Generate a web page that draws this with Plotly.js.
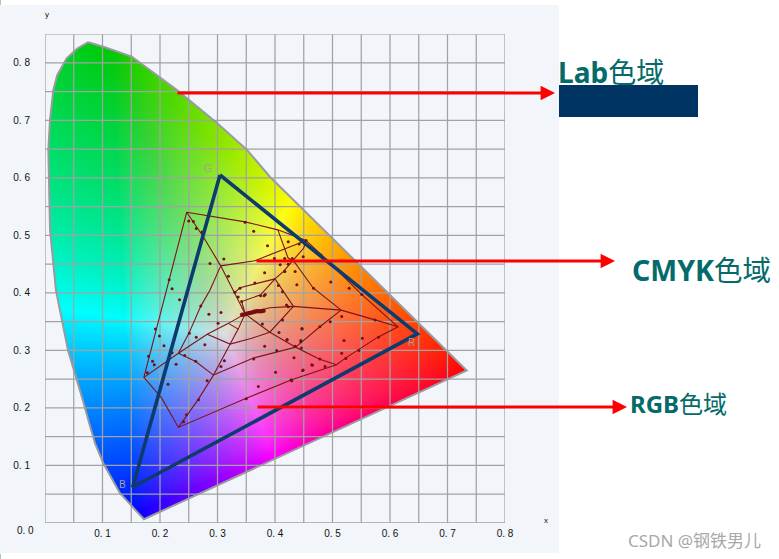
<!DOCTYPE html>
<html><head><meta charset="utf-8">
<script src="https://cdn.plot.ly/plotly-3.0.1.min.js"></script>
<style>html,body{margin:0;padding:0;background:#fff}#c{width:779px;height:559px}</style>
</head><body><div id="c"></div>
<script>
// Chromaticity locus (x, y)
const locusX=[.0753,.1014,.1508,.229,.2986,.351,.391,.7334,.172,.1304,.1014,.087,.077,.0656,.04,.019,.0087,.007,.0058,.0087,.0145,.0214,.0377,.056,.0753];
const locusY=[.836,.828,.811,.753,.696,.649,.602,.265,.0064,.0516,.1038,.1386,.173,.214,.30,.405,.51,.597,.649,.701,.753,.779,.808,.825,.836];
// RGB gamut
const rgbX=[.3043,.6475,.1525,.3043];
const rgbY=[.605,.3287,.062,.605];
// CMYK gamut mesh lines
const meshLines=[
 [[.2464,.348,.405,.454,.481,.551,.614,.579,.523,.507,.429,.351,.232,.203,.172,.2464],[.5403,.5235,.5096,.491,.466,.397,.341,.323,.287,.275,.249,.217,.166,.217,.253,.5403]],
 [[.2464,.275,.3056,.330,.348],[.5403,.498,.447,.4005,.3635]],
 [[.3056,.365,.454],[.447,.456,.491]],
 [[.3056,.287,.271,.2504,.232],[.447,.405,.377,.330,.295]],
 [[.172,.232,.282,.319,.348],[.253,.295,.328,.347,.3635]],
 [[.348,.336,.322,.293,.266,.232],[.3635,.337,.311,.257,.214,.166]],
 [[.232,.262,.293],[.295,.2805,.257]],
 [[.293,.3635,.436,.4765,.507],[.257,.287,.3056,.285,.275]],
 [[.282,.322,.3595,.391,.432],[.328,.311,.321,.3316,.3765]],
 [[.319,.336],[.347,.337]],
 [[.348,.391,.436],[.3635,.3316,.3056]],
 [[.436,.478,.515],[.3056,.341,.370]],
 [[.348,.391,.432,.515,.574,.614],[.3635,.374,.3765,.370,.353,.341]],
 [[.515,.466,.435,.4226,.405],[.370,.409,.452,.461,.5096]],
 [[.454,.450,.414,.400,.432],[.491,.478,.4365,.4243,.3765]],
 [[.400,.339,.330],[.4243,.409,.4005]],
 [[.400,.375,.342,.348],[.4243,.3965,.385,.3635]]
];
// CMYK measured samples
const sampleX=[.250,.258,.263,.273,.348,.363,.423,.387,.311,.287,.399,.417,.409,.423,.382,.417,.319,.339,.365,.216,.221,.234,.406,.330,.336,.375,.381,
 .442,.454,.480,.449,.430,.435,.417,.497,.529,.551,.438,.467,.413,.423,.413,.447,.478,.496,.516,.574,.580,.552,.520,.516,.546,.523,.445,.435,.421,.433,.478,.465,.487,.449,.429,
 .192,.199,.207,.180,.187,.190,.178,.214,.228,.221,.251,.263,.278,.285,.271,.301,.306,.312,.306,.282,.262,.243,.267,.246,.241,.371,.401,.448,.464,.363,.382,.407,.447,.421,.445,.446,.403,.428,.350,.378,.420,.374,.342,.383];
const sampleY=[.525,.524,.512,.506,.523,.507,.489,.482,.459,.451,.460,.460,.449,.450,.435,.437,.429,.408,.417,.423,.407,.388,.413,.401,.393,.395,.395,
 .485,.491,.466,.463,.460,.437,.437,.419,.408,.397,.414,.408,.402,.376,.353,.338,.341,.350,.359,.353,.323,.321,.317,.295,.300,.286,.315,.307,.319,.287,.285,.274,.272,.266,.247,
 .337,.325,.308,.290,.281,.275,.261,.241,.276,.296,.330,.323,.310,.363,.377,.347,.366,.282,.272,.247,.281,.291,.214,.188,.176,.237,.262,.265,.275,.285,.307,.331,.337,.318,.317,.304,.300,.249,.216,.346,.379,.368,.385,.397];
const clusterX=[.343,.348,.352,.356,.360,.364,.368,.372,.376,.380];
const clusterY=[.362,.363,.364,.365,.366,.367,.368,.368,.368,.369];
const primaryLabels=['G','R','B'];
const primaryX=[.2835,.638,.134];
const primaryY=[.617,.313,.0675];
const xTicks=[.1,.2,.3,.4,.5,.6,.7,.8];
const yTicks=[.1,.2,.3,.4,.5,.6,.7,.8];
const xTickText=['0. 1','0. 2','0. 3','0. 4','0. 5','0. 6','0. 7','0. 8'];
const yTickText=['0. 1','0. 2','0. 3','0. 4','0. 5','0. 6','0. 7','0. 8'];
const gridX=[0,.05,.1,.15,.2,.25,.3,.35,.4,.45,.5,.55,.6,.65,.7,.75,.8];
const gridY=[0,.05,.1,.15,.2,.25,.3,.35,.4,.45,.5,.55,.6,.65,.7,.75,.8,.85];

// layout frame in window pixels
const L=45,R=505,T=34,B=523,W=779,H=559;
const px=v=>(v-L)/(R-L), py=v=>(B-v)/(B-T);

// colour field: chromaticity converted through wide-gamut primaries, white-balanced, inside the locus only
function inside(x,y){let c=false;for(let i=0,j=locusX.length-1;i<locusX.length;j=i++){
  if((locusY[i]>y)!==(locusY[j]>y)&&x<(locusX[j]-locusX[i])*(y-locusY[i])/(locusY[j]-locusY[i])+locusX[i])c=!c;}return c;}
function colour(x,y){
  const X=x/y,Z=(1-x-y)/y;
  let r=Math.max(0,(1.4628*X-.184-.2744*Z)/.908),
      g=Math.max(0,(-.5217*X+1.4472+.0677*Z)/1.025),
      b=Math.max(0,(.0349*X-.0969+1.2884*Z)/1.339);
  const m=Math.max(r,g,b);
  r=Math.pow(r/m,.75);g=Math.pow(g/m,.75);b=Math.pow(b/m,.75);
  g*=1-.22*(1-Math.max(r,b));
  const dx=x-.33,dy=y-.33,f=1-.13*Math.exp(-(dx*dx+dy*dy)/(2*.09*.09));
  return [255*r*f,255*g*f,255*b*f,1];
}
const step=1/575,z=[];
for(let j=0;j<489;j++){const row=[],y=(j+.5)*step;
  for(let i=0;i<460;i++){const x=(i+.5)*step;row.push(inside(x,y)?colour(x,y):[0,0,0,0]);}
  z.push(row);}

const gx=[],gy=[];
gridX.forEach(v=>{gx.push(v,v,null);gy.push(0,.85,null);});
gridY.forEach(v=>{gx.push(0,.8,null);gy.push(v,v,null);});

const traces=[
 {type:'image',z:z,colormodel:'rgba',x0:0,y0:0,dx:step,dy:step,hoverinfo:'skip'},
 {type:'scatter',mode:'lines',x:gx,y:gy,line:{color:'#a2a2a2',width:1.25},cliponaxis:false,hoverinfo:'skip'},
 {type:'scatter',mode:'lines',x:locusX,y:locusY,line:{color:'#9a9aa0',width:2},cliponaxis:false,hoverinfo:'skip'}
];
meshLines.forEach(m=>traces.push({type:'scatter',mode:'lines',x:m[0],y:m[1],line:{color:'#7d1418',width:1.1},hoverinfo:'skip'}));
traces.push({type:'scatter',mode:'markers',x:sampleX,y:sampleY,marker:{color:'#7a0c12',size:3},hoverinfo:'skip'});
traces.push({type:'scatter',mode:'markers',x:clusterX,y:clusterY,marker:{color:'#7a0c12',size:4.5},hoverinfo:'skip'});
traces.push({type:'scatter',mode:'lines',x:rgbX,y:rgbY,line:{color:'#0d3b6e',width:3.6},hoverinfo:'skip'});

const arrow=(x0,x1,y)=>({xref:'paper',yref:'paper',x:px(x1),y:py(y),ax:x0-x1,ay:0,axref:'pixel',ayref:'pixel',text:'',showarrow:true,arrowhead:2,arrowsize:.9,arrowwidth:3.2,arrowcolor:'#fe0000'});
const text=(s,x,y,size,color,extra)=>Object.assign({xref:'paper',yref:'paper',x:px(x),y:py(y),text:s,showarrow:false,xanchor:'left',yanchor:'middle',font:{size:size,color:color,family:'"Noto Sans","Noto Sans CJK SC",sans-serif'}},extra||{});
const tf={size:10,color:'#111',family:'Liberation Sans'};
const annotations=[
 arrow(176,555,93),arrow(255,615,261),arrow(256,627,407),
 text('<b>Lab</b>色域',556,72,28,'#056a6a'),
 text('<b>CMYK</b>色域',630,270,28.5,'#056a6a'),
 text('<b>RGB</b>色域',628,403,24,'#056a6a'),
 text('CSDN @钢铁男儿',626,540,17,'#a8a8a8'),
 text('y',43,14,8,'#111',{font:{size:8,color:'#111',family:'Liberation Sans'}}),
 text('x',542,520,8,'#111',{font:{size:8,color:'#111',family:'Liberation Sans'}}),
 text('0. 0',15,530,10,'#111',{font:tf})
];
primaryLabels.forEach((s,i)=>annotations.push({x:primaryX[i],y:primaryY[i],xref:'x',yref:'y',text:s,showarrow:false,font:{size:10,color:'#a9a28e',family:'Liberation Sans'}}));

const rectPx=(x0,x1,y0,y1,color)=>({type:'rect',xref:'paper',yref:'paper',x0:px(x0),x1:px(x1),y0:py(y0),y1:py(y1),fillcolor:color,line:{width:0},layer:'below'});
const layout={
 width:W,height:H,margin:{l:L,r:W-R,t:T,b:H-B},paper_bgcolor:'#fff',plot_bgcolor:'rgba(0,0,0,0)',showlegend:false,
 xaxis:{range:[0,.8],showgrid:false,zeroline:false,showline:false,tickvals:xTicks,ticktext:xTickText,ticks:'outside',ticklen:1,tickcolor:'rgba(0,0,0,0)',tickfont:tf},
 yaxis:{range:[0,.85],showgrid:false,zeroline:false,showline:false,tickvals:yTicks,ticktext:yTickText,ticks:'outside',ticklen:12,tickcolor:'rgba(0,0,0,0)',tickfont:tf},
 shapes:[rectPx(0,559,5,553,'#f2f5fa'),rectPx(559,698,85,117,'#003462'),rectPx(0,1,0,5,'#9fd49f'),rectPx(0,1,554,559,'#9fd49f')],
 annotations:annotations
};
Plotly.newPlot('c',traces,layout,{staticPlot:true,displayModeBar:false});
</script></body></html>
